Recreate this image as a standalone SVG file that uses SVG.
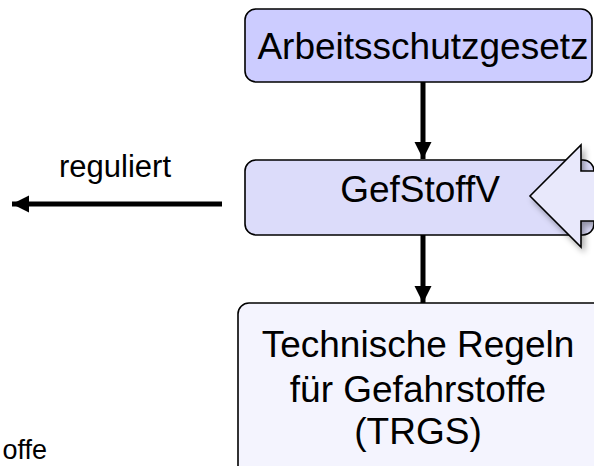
<svg xmlns="http://www.w3.org/2000/svg" width="594" height="466" viewBox="0 0 594 466">
  <defs>
    <style>
      .box { stroke: #000; stroke-width: 1.6; }
      .lbl { font-family: "Liberation Sans", Arial, sans-serif; fill: #000; }
      .big { font-size: 37px; text-anchor: middle; }
      .edge { stroke: #000; stroke-width: 5; fill: none; }
    </style>
    <marker id="head" viewBox="0 0 10 10" refX="10" refY="5" markerWidth="3.4" markerHeight="3.8" markerUnits="strokeWidth" orient="auto">
      <path d="M0,0 L10,5 L0,10 Z" fill="#000"/>
    </marker>
    <filter id="shadow" x="-20%" y="-20%" width="160%" height="160%">
      <feGaussianBlur in="SourceAlpha" stdDeviation="3"/>
      <feOffset dx="3" dy="4" result="b"/>
      <feComponentTransfer><feFuncA type="linear" slope="0.35"/></feComponentTransfer>
      <feMerge><feMergeNode/><feMergeNode in="SourceGraphic"/></feMerge>
    </filter>
  </defs>

  <!-- flow connectors -->
  <g id="connectors">
    <line class="edge" x1="423" y1="82" x2="423" y2="159" marker-end="url(#head)"/>
    <line class="edge" x1="423" y1="235" x2="423" y2="303" marker-end="url(#head)"/>
    <line class="edge" x1="222" y1="204" x2="12" y2="204" marker-end="url(#head)"/>
    <text class="lbl" x="115" y="177" font-size="31" text-anchor="middle">reguliert</text>
  </g>

  <g id="arbschg">
    <rect class="box" x="245" y="9" width="347" height="73" rx="11" fill="#ccccff"/>
    <text class="lbl big" x="423" y="59">Arbeitsschutzgesetz</text>
  </g>

  <g id="gefstoffv">
    <rect class="box" x="245" y="160" width="349" height="75" rx="11" fill="#dcdcfa"/>
    <text class="lbl big" x="420" y="202">GefStoffV</text>
  </g>

  <!-- block arrow entering from the right -->
  <g id="input-arrow">
    <polygon class="box" points="600,171 581,171 581,145 530,196 581,247 581,221 600,221" fill="#e8e8fb" filter="url(#shadow)"/>
  </g>

  <g id="trgs">
    <rect class="box" x="238" y="303" width="370" height="180" rx="11" fill="#f4f4fe"/>
    <text class="lbl big" x="418" y="357">Technische Regeln</text>
    <text class="lbl big" x="418" y="402">für Gefahrstoffe</text>
    <text class="lbl big" x="418" y="444">(TRGS)</text>
  </g>

  <g id="side-note">
    <text class="lbl" x="47" y="459" font-size="27" text-anchor="end">offe</text>
  </g>
</svg>
